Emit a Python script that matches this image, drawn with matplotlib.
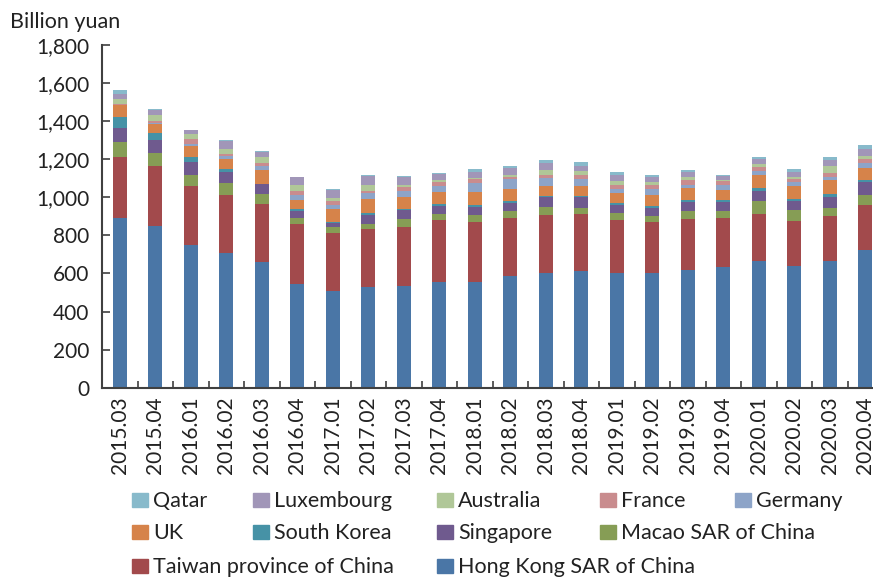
import numpy as np
import matplotlib
matplotlib.use('Agg')
import matplotlib.pyplot as plt
from matplotlib.patches import Rectangle

plt.rcParams['font.family'] = ['Lato', 'DejaVu Sans']

quarters = ['2015.03', '2015.04', '2016.01', '2016.02', '2016.03', '2016.04',
            '2017.01', '2017.02', '2017.03', '2017.04', '2018.01', '2018.02',
            '2018.03', '2018.04', '2019.01', '2019.02', '2019.03', '2019.04',
            '2020.01', '2020.02', '2020.03', '2020.04']

# billion yuan (bottom to top of each stack)
hong_kong = [890, 848, 752, 709, 660, 543, 507, 528, 535, 556, 556, 588,
             602, 612, 602, 602, 619, 633, 665, 640, 665, 724]
taiwan = [320, 314, 309, 305, 306, 315, 307, 307, 310, 326, 316, 305,
          307, 302, 280, 270, 269, 260, 249, 237, 238, 237]
macao = [78, 69, 58, 63, 53, 32, 31, 26, 43, 32, 37, 37,
         42, 31, 37, 31, 42, 37, 68, 58, 42, 53]
singapore = [76, 68, 68, 58, 49, 38, 20, 44, 47, 42, 42, 42,
             49, 55, 42, 42, 47, 47, 53, 47, 58, 68]
south_korea = [56, 37, 27, 16, 4, 9, 3, 11, 5, 10, 6, 7,
               5, 5, 11, 11, 11, 11, 16, 11, 16, 11]
uk = [63, 49, 54, 52, 70, 48, 72, 77, 60, 64, 73, 66,
      56, 56, 52, 58, 63, 52, 68, 68, 74, 63]
germany = [3, 3, 12, 14, 21, 25, 21, 28, 35, 31, 45, 53,
           42, 33, 20, 31, 15, 23, 21, 21, 15, 23]
france = [4, 11, 28, 13, 19, 21, 21, 14, 17, 21, 19, 10,
          16, 22, 19, 18, 27, 23, 21, 16, 22, 24]
australia = [25, 33, 22, 26, 32, 32, 16, 31, 14, 11, 5, 11,
             26, 24, 21, 16, 15, 3, 16, 10, 36, 16]
luxembourg = [30, 25, 21, 42, 26, 42, 42, 48, 39, 31, 35, 37,
              37, 26, 32, 26, 27, 25, 26, 27, 32, 37]
qatar = [17, 5, 5, 1, 5, 1, 5, 1, 9, 6, 16, 10,
         16, 21, 19, 11, 10, 5, 11, 16, 16, 21]

series = [
    ('Hong Kong SAR of China', hong_kong, '#4A76A6'),
    ('Taiwan province of China', taiwan, '#A24A4C'),
    ('Macao SAR of China', macao, '#869D55'),
    ('Singapore', singapore, '#6F5A8E'),
    ('South Korea', south_korea, '#4692A6'),
    ('UK', uk, '#D6834A'),
    ('Germany', germany, '#8DA4C8'),
    ('France', france, '#C98C8E'),
    ('Australia', australia, '#B0C798'),
    ('Luxembourg', luxembourg, '#A196B8'),
    ('Qatar', qatar, '#88BACB'),
]


def draw_chart():
    fig = plt.figure(figsize=(8.73, 5.81), dpi=100)
    W, H = 873, 581
    ax = fig.add_axes([102 / W, (H - 387.7) / H, 35.5 * 22 / W, 342.7 / H])

    x = np.arange(len(quarters))
    bottom = np.zeros(len(quarters))
    for name, vals, color in series:
        ax.bar(x, vals, width=0.4, bottom=bottom, color=color, label=name)
        bottom += np.array(vals)

    ax.set_xlim(-0.5, len(quarters) - 0.5)
    ax.set_ylim(0, 1800)
    ax.set_yticks(np.arange(0, 1801, 200))
    ax.yaxis.set_major_formatter(matplotlib.ticker.FuncFormatter(lambda v, p: f'{int(v):,}'))

    ax.set_xticks(np.arange(-0.5, len(quarters), 1))
    ax.set_xticklabels([])
    ax.set_xticks(x, minor=True)
    ax.set_xticklabels(quarters, minor=True, rotation=90)
    ax.tick_params(axis='x', which='minor', length=0, pad=6, labelsize=15, colors='#222222')
    ax.tick_params(axis='x', which='major', direction='in', length=5, width=1.2, color='#404040')
    ax.tick_params(axis='y', direction='in', length=6, width=1.2, color='#404040',
                   pad=9, labelsize=15, labelcolor='#222222')

    for s in ['top', 'right']:
        ax.spines[s].set_visible(False)
    for s in ['left', 'bottom']:
        ax.spines[s].set_color('#404040')
        ax.spines[s].set_linewidth(1.5)

    fig.text(10 / W, 1 - 28 / H, 'Billion yuan', fontsize=15.5, color='#222222',
             ha='left', va='baseline')

    # legend, laid out like the source
    colors = {name: c for name, _, c in series}
    rows = [
        [('Qatar', 132), ('Luxembourg', 253), ('Australia', 437), ('France', 600), ('Germany', 735)],
        [('UK', 132), ('South Korea', 253), ('Singapore', 437), ('Macao SAR of China', 600)],
        [('Taiwan province of China', 132), ('Hong Kong SAR of China', 437)],
    ]
    row_bottoms = [507, 539, 573]
    for row, yb in zip(rows, row_bottoms):
        for name, xl in row:
            fig.add_artist(Rectangle((xl / W, 1 - yb / H), 16 / W, 14 / H,
                                     transform=fig.transFigure, color=colors[name]))
            fig.text((xl + 21) / W, 1 - yb / H, name, fontsize=15.5, color='#222222',
                     ha='left', va='baseline')

    fig.savefig('out.png', dpi=100)


def main():
    draw_chart()


if __name__ == '__main__':
    main()
